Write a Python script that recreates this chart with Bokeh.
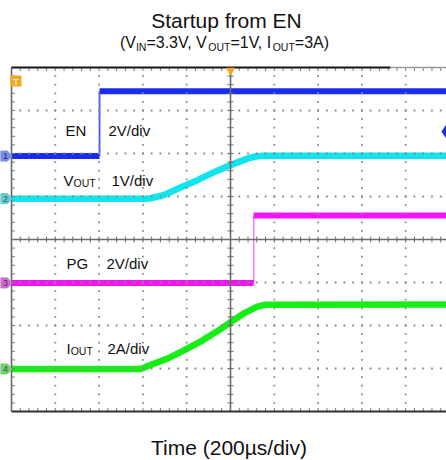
import numpy as np
from bokeh.plotting import figure
from bokeh.models import Range1d
from bokeh.core.properties import value
from bokeh.embed import file_html
from bokeh.resources import INLINE

TITLE = "Startup from EN"
SUBTITLE_PARTS = [("(V", False), ("IN", True), ("=3.3V, V", False), ("OUT", True),
                  ("=1V, I", False), ("OUT", True), ("=3A)", False)]
X_LABEL = "Time (200µs/div)"

US_PER_DIV = 200
N_XDIV = 10
N_YDIV = 8

CH_NAME = [("EN", ""), ("V", "OUT"), ("PG", ""), ("I", "OUT")]
CH_SCALE_TEXT = ["2V/div", "1V/div", "2V/div", "2A/div"]
CH_UNITS_PER_DIV = [2.0, 1.0, 2.0, 2.0]
CH_GROUND_DIV = [5.94, 4.95, 2.99, 0.99]
CH_NUMBER = ["1", "2", "3", "4"]

EN_EDGE_US = -598
EN_LEVELS_V = [0.0, 3.02]
EN_TRIG_LEVEL_V = 1.14
PG_EDGE_US = 106
PG_LEVELS_V = [0.0, 3.14]

VOUT_T_US = [-1000, -388, -365, -306, -228, -151, -78, 0, 78, 114, 151, 1000]
VOUT_V = [0.0, 0.0, 0.01, 0.08, 0.26, 0.43, 0.61, 0.78, 0.93, 0.98, 1.0, 1.0]
IOUT_T_US = [-1000, -411, -365, -288, -215, -137, -59, 0, 59, 123, 160, 1000]
IOUT_A = [0.0, 0.0, 0.18, 0.48, 0.85, 1.27, 1.76, 2.17, 2.57, 2.90, 2.99, 3.0]

# ---------------- styles / layout ----------------
CH_COLOR = ["#1a2cf0", "#12e4ee", "#f214f2", "#16ef16"]
TAG_COLOR = ["#7d8ce6", "#66cccc", "#cc70cc", "#78cc78"]
TAG_TEXT = ["#1c2a8a", "#1d6b6b", "#6b1d6b", "#1d6b1d"]
ORANGE = "#f4a81d"
FONT = "Liberation Sans"
TXT = "#111111"

FIG_W, FIG_H = 446, 460
SC_LEFT, SC_TOP, SC_BOTTOM = 11, 67, 411     # scope area in pixels
PX_X = 43.8
PX_Y = (SC_BOTTOM - SC_TOP) / N_YDIV
X0 = -N_XDIV / 2 * US_PER_DIV
X1 = N_XDIV / 2 * US_PER_DIV
UPX = US_PER_DIV / PX_X      # microseconds per pixel
VPX = 1.0 / PX_Y             # divisions per pixel
MID = 0.3465                 # em offset from baseline to text middle


def xd(xpix):
    return X0 + (xpix - SC_LEFT) * UPX


def yd(ypix):
    return (SC_BOTTOM - ypix) * VPX


def ch_y(i, vals):
    return [CH_GROUND_DIV[i] + v / CH_UNITS_PER_DIV[i] for v in vals]


AW = {'(': 333, ')': 333, 'V': 667, 'I': 278, 'N': 722, 'O': 778, 'U': 722, 'T': 611,
      '=': 584, '3': 556, '1': 556, '.': 278, ',': 278, ' ': 278, 'A': 667}


def tw(s, size):
    return sum(AW.get(c, 556) for c in s) / 1000.0 * size


p = figure(width=FIG_W, height=FIG_H, output_backend="svg", toolbar_location=None,
           x_axis_location=None, y_axis_location=None, title=None,
           x_range=Range1d(xd(0), xd(FIG_W)), y_range=Range1d(yd(FIG_H), yd(0)),
           min_border=0, min_border_left=0, min_border_right=0, min_border_top=0, min_border_bottom=0)
p.outline_line_color = None
p.background_fill_color = "white"
p.border_fill_color = "white"
p.grid.visible = False


def txt(xpix, base_pix, s, size, align="left", color=TXT):
    # place by baseline: convert to the text middle
    p.text([xd(xpix)], [yd(base_pix - MID * size)], text=[s], text_align=align, text_baseline="middle",
           text_font=value(FONT), text_font_size=f"{size}px", text_color=color)


# ---------------- traces ----------------
en_lo, en_hi = ch_y(0, EN_LEVELS_V)
p.line([X0, EN_EDGE_US], [en_lo, en_lo], line_width=6, line_color=CH_COLOR[0])
p.line([EN_EDGE_US, X1], [en_hi, en_hi], line_width=6, line_color=CH_COLOR[0])
p.line([EN_EDGE_US, EN_EDGE_US], [en_lo, en_hi], line_width=1.8, line_color=CH_COLOR[0], line_alpha=0.8)

p.line(VOUT_T_US, ch_y(1, VOUT_V), line_width=6.5, line_color=CH_COLOR[1], line_join="round")

pg_lo, pg_hi = ch_y(2, PG_LEVELS_V)
p.line([X0, PG_EDGE_US], [pg_lo, pg_lo], line_width=6, line_color=CH_COLOR[2])
p.line([PG_EDGE_US, X1], [pg_hi, pg_hi], line_width=6, line_color=CH_COLOR[2])
p.line([PG_EDGE_US, PG_EDGE_US], [pg_lo, pg_hi], line_width=1.6, line_color=CH_COLOR[2], line_alpha=0.55)

p.line(IOUT_T_US, ch_y(3, IOUT_A), line_width=6.5, line_color=CH_COLOR[3], line_join="round")

# ---------------- graticule (dotted grid as small dots every 1/5 div) ----------------
my = np.arange(1, N_YDIV * 5) / 5.0
mx = X0 + np.arange(1, N_XDIV * 5) * (US_PER_DIV / 5)
dx, dy = [], []
for k in range(1, N_XDIV):
    if k == N_XDIV // 2:
        continue
    gx = X0 + k * US_PER_DIV
    dx += [gx] * len(my)
    dy += list(my)
for j in range(1, N_YDIV):
    if j == N_YDIV // 2:
        continue
    dx += list(mx)
    dy += [j] * len(mx)
p.scatter(dx, dy, marker="square", size=1.8, fill_color="#8a8a8a", line_color=None)

p.line([0, 0], [0, N_YDIV], line_color="#6a6a6a", line_width=1.6)
p.line([X0, X1], [N_YDIV / 2, N_YDIV / 2], line_color="#6a6a6a", line_width=1.6)

t = 3.0
p.segment(x0=[-t * UPX] * len(my), y0=my, x1=[t * UPX] * len(my), y1=my, line_color="#6a6a6a", line_width=1)
p.segment(x0=mx, y0=[N_YDIV / 2 - t * VPX] * len(mx), x1=mx, y1=[N_YDIV / 2 + t * VPX] * len(mx),
          line_color="#6a6a6a", line_width=1)
p.segment(x0=[X0] * len(my), y0=my, x1=[X0 + 3.5 * UPX] * len(my), y1=my, line_color="#7a7a7a", line_width=1)
p.segment(x0=mx, y0=[N_YDIV] * len(mx), x1=mx, y1=[N_YDIV - 3.5 * VPX] * len(mx), line_color="#7a7a7a", line_width=1)
p.segment(x0=mx, y0=[0] * len(mx), x1=mx, y1=[3.5 * VPX] * len(mx), line_color="#7a7a7a", line_width=1)

# borders
p.line([X0, X0], [0, N_YDIV], line_color="#6a6a6a", line_width=1.6)
p.line([X0, xd(390)], [N_YDIV, N_YDIV], line_color="#151515", line_width=2)
p.line([xd(390), X1], [N_YDIV, N_YDIV], line_color="#9a9a9a", line_width=1.5)
p.line([X0, X1], [0, 0], line_color="#303030", line_width=2)

# ---------------- scope markers ----------------
p.scatter([xd(15.5)], [yd(80.5)], marker="square", size=10, fill_color=ORANGE, line_color=ORANGE)
p.text([xd(15.5)], [yd(81)], text=["T"], text_align="center", text_baseline="middle",
       text_font=value(FONT), text_font_size="9px", text_font_style="bold", text_color="#fff0d0")
p.scatter([0], [yd(70)], marker="inverted_triangle", size=8, fill_color=ORANGE, line_color=ORANGE)
p.scatter([xd(445.5)], [CH_GROUND_DIV[0] + EN_TRIG_LEVEL_V / CH_UNITS_PER_DIV[0]], marker="diamond",
          size=12, fill_color=CH_COLOR[0], line_color=CH_COLOR[0])
tag_xs, tag_ys = [], []
for i in range(4):
    g = CH_GROUND_DIV[i]
    tag_xs.append([xd(0), xd(7), xd(11.5), xd(7), xd(0)])
    tag_ys.append([g + 5 * VPX, g + 5 * VPX, g, g - 5 * VPX, g - 5 * VPX])
p.patches(tag_xs, tag_ys, fill_color=TAG_COLOR, line_color=TAG_COLOR)
p.text([xd(5)] * 4, CH_GROUND_DIV, text=CH_NUMBER, text_align="center", text_baseline="middle",
       text_font=value(FONT), text_font_size="9px", text_color=TAG_TEXT)

# ---------------- texts ----------------
txt(226, 27.5, TITLE, 21, align="center")

MAIN, SUB = 16, 10.5
total = sum(tw(s, SUB if sub else MAIN) for s, sub in SUBTITLE_PARTS)
xp = 224 - total / 2
for s, sub in SUBTITLE_PARTS:
    size = SUB if sub else MAIN
    txt(xp, 48 + (2.5 if sub else 0), s, size)
    xp += tw(s, size)

txt(228.5, 454, X_LABEL, 21, align="center")

NAME_X = [65, 63, 66, 66]
SCALE_X = [108, 111, 106, 107]
BASE_Y = [135.5, 185, 268.3, 352.7]
for i in range(4):
    main, sub = CH_NAME[i]
    txt(NAME_X[i], BASE_Y[i], main, 15)
    if sub:
        txt(NAME_X[i] + tw(main, 15), BASE_Y[i] + 1.5, sub, 10.5)
    txt(SCALE_X[i], BASE_Y[i], CH_SCALE_TEXT[i], 15)

open("out.html", "w").write(file_html(p, INLINE))
